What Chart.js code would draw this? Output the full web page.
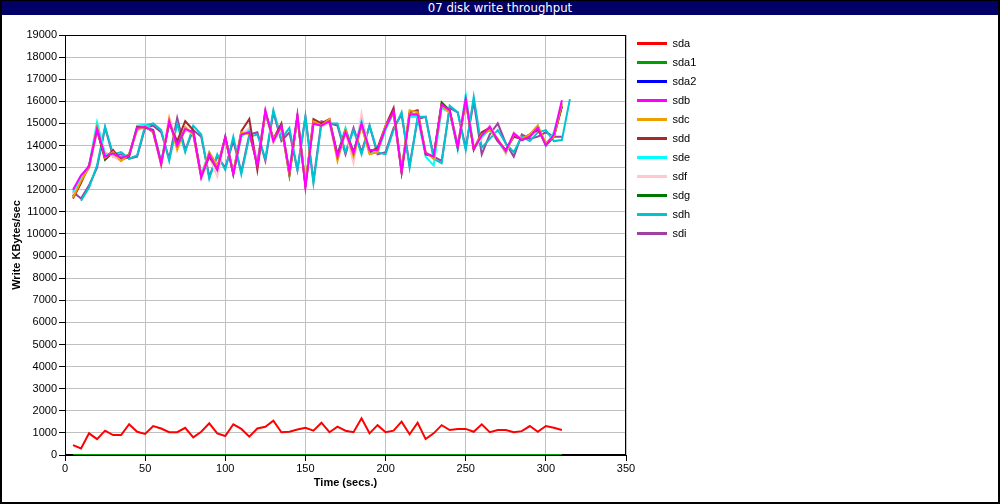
<!DOCTYPE html>
<html>
    <head>
        <meta charset="utf-8">
        <title>07 disk write throughput</title>
        <script src="https://cdn.jsdelivr.net/npm/chart.js@4.4.0/dist/chart.umd.min.js"></script>
        <style>
            body { margin: 0; background: #fff; }
            #wrap { position: relative; width: 1000px; height: 504px; overflow: hidden; }
            #chart { position: absolute; left: 0; top: 0; }
            #title { position: absolute; left: 0; top: 0; width: 1000px; height: 15px; background: #000066;
                     color: #fff; text-align: center; line-height: 15px;
                     font-family: 'Liberation Sans Narrow', 'DejaVu Sans Condensed', 'Liberation Sans', sans-serif; font-size: 13px; }
            #frame { position: absolute; left: 0; top: 0; width: 1000px; height: 504px; box-sizing: border-box;
                     border: 2px solid #000; border-top-width: 1px; pointer-events: none; }
        </style>
    </head>
    <body>
        <div id="wrap">
            <canvas id="chart" width="1000" height="504"></canvas>
            <div id="title">07 disk write throughput</div>
            <div id="frame"></div>
        </div>
        <script>
// sample times (secs.)
const times = [5,10,15,20,25,30,35,40,45,50,55,60,65,70,75,80,85,90,95,100,
    105,110,115,120,125,130,135,140,145,150,155,160,165,170,175,180,185,190,195,200,
    205,210,215,220,225,230,235,240,245,250,255,260,265,270,275,280,285,290,295,300,305,310];
// sdh is logged one sample later
const timesH = [10,15,20,25,30,35,40,45,50,55,60,65,70,75,80,85,90,95,100,105,
    110,115,120,125,130,135,140,145,150,155,160,165,170,175,180,185,190,195,200,205,
    210,215,220,225,230,235,240,245,250,255,260,265,270,275,280,285,290,295,300,305,310,315];

const sda = [450,300,980,720,1100,900,900,1390,1050,950,1310,1200,1030,1030,1230,800,1050,1430,980,860,
    1390,1180,830,1200,1280,1550,1030,1050,1150,1230,1100,1460,1030,1280,1100,1030,1660,980,1350,1030,
    1100,1510,940,1460,720,980,1350,1130,1180,1180,1050,1390,1030,1130,1130,1030,1080,1310,1050,1310,1230,1130];
const sda1 = [0,0,0,0,0,0,0,0,0,0,0,0,0,0,0,0,0,0,0,0,0,0,0,0,0,0,0,0,0,0,0,
    0,0,0,0,0,0,0,0,0,0,0,0,0,0,0,0,0,0,0,0,0,0,0,0,0,0,0,0,0,0,0];
const sda2 = [0,0,0,0,0,0,0,0,0,0,0,0,0,0,0,0,0,0,0,0,0,0,0,0,0,0,0,0,0,0,0,
    0,0,0,0,0,0,0,0,0,0,0,0,0,0,0,0,0,0,0,0,0,0,0,0,0,0,0,0,0,0,0];
const sdb = [12000,12650,13050,14750,13500,13650,13450,13550,14800,14850,14650,13150,15100,14000,14750,14600,12550,13600,12900,14400,
    12700,14500,14600,13100,15600,14200,14900,12800,15400,12100,15000,14900,15100,13500,14600,13650,15000,13800,13800,14800,
    15550,12800,15400,15400,13650,13500,15850,15600,13950,16100,13850,14450,14850,14250,13750,14550,14250,14400,14800,14000,14500,16050];
const sdc = [11650,12400,13000,14850,13450,13700,13300,13600,14700,14900,14600,13100,15200,13800,14850,14500,12600,13700,13100,14300,
    12800,14600,14500,13200,15500,14300,14800,12700,15300,12300,15100,14900,15200,13300,14700,13500,14900,13600,13700,14900,
    15450,12900,15600,15500,13700,13400,15800,15500,14000,16000,13900,14500,14700,14300,13700,14500,14300,14500,14900,14100,14400,15900];
const sdd = [11600,12300,13100,14700,13400,13800,13350,13500,14850,14800,14700,13200,15000,14200,15100,14700,12600,13500,12950,14350,
    12750,14650,15200,12900,15500,14300,15000,12700,15300,12200,15200,15000,15200,13600,14700,13700,14900,13700,13900,14900,
    15700,12800,15500,15600,13600,13500,15900,15550,13900,16000,13800,14600,14800,14200,13800,14400,14300,14500,14700,14100,14400,15800];
const sde = [11900,12600,13100,15050,13600,13600,13500,13500,14900,14950,14700,13300,15000,14100,14800,14500,12700,13700,13000,14300,
    12800,14400,14700,13200,15500,14300,14800,12900,15300,12300,15000,15000,15100,13600,14800,13700,15100,13700,13700,14700,
    15500,13000,15300,15300,13500,13100,15700,15500,13800,16300,13900,14400,14700,14200,13700,14500,14300,14500,14900,14000,14600,15900];
const sdf = [11800,12500,13000,14600,13700,13500,13300,13550,14700,14800,14700,13200,15300,14100,14700,14500,12500,13500,12600,14300,
    12800,14500,14800,13300,15500,14100,14800,12900,15200,12200,15100,14900,15000,13400,14600,13200,15450,13700,13800,14800,
    15500,12900,15300,15300,13700,13500,15700,15500,14100,16000,13900,14300,14900,14300,13600,14600,14300,14500,14700,14100,14400,15900];
const sdg = [11700,12450,13000,14700,13350,13700,13400,13600,14800,14850,14600,13200,15100,14000,14700,14600,12600,13600,12900,14400,
    12700,14500,14600,13100,15500,14200,14900,12650,15300,12200,15000,14900,15100,13500,14600,13600,15000,13800,13800,14800,
    15500,12800,15400,15400,13650,13500,15950,15600,13950,16100,13850,14400,14800,14250,13750,14500,14250,14400,14800,14000,14400,15750];
const sdh = [11500,12100,13100,14850,13600,13700,13400,13550,14900,15000,14700,13300,15000,13700,14900,14500,12500,13600,12900,14400,
    12700,14400,14500,13400,15600,14300,14800,12900,15300,12300,15000,15000,15000,13700,14700,13600,14900,13700,13600,14700,
    15500,13000,15300,15300,13400,13200,15800,15500,13800,16200,13900,14300,14700,14100,13700,14400,14200,14600,14700,14200,14250,16100];
const sdi = [11900,11600,12200,13000,14800,13500,13600,13400,13500,14800,14900,14600,13400,15250,13800,14700,14400,12600,13500,13000,
    14200,12800,14500,14600,13300,15500,14200,14600,12900,15300,12400,15100,15000,14900,13600,14800,13700,14900,13600,13700,
    14800,15400,13100,15200,15300,13500,13300,15700,15500,13900,16000,13600,14500,15000,14100,13500,14500,14300,14400,14600,14400,14400];

const yTicks = { min: 0, max: 19000, step: 1000 };
const xTicks = { min: 0, max: 350, step: 50 };

function pts(xs, ys) {
    return xs.map((x, i) => ({ x: x, y: ys[i] }));
}

function line(label, xs, ys, color) {
    return {
        label: label,
        data: pts(xs, ys),
        borderColor: color,
        backgroundColor: color,
        borderWidth: 2,
        pointRadius: 0,
        tension: 0
    };
}

const fontFamily = "'Liberation Sans', Arial, sans-serif";
Chart.defaults.font.family = fontFamily;
Chart.defaults.font.size = 11;
Chart.defaults.color = '#000';

// black box round the plot area
const plotFrame = {
    id: 'plotFrame',
    beforeDatasetsDraw(chart) {
        const a = chart.chartArea;
        const ctx = chart.ctx;
        ctx.save();
        ctx.strokeStyle = '#000';
        ctx.lineWidth = 1;
        ctx.strokeRect(Math.round(a.left) + 0.5, Math.round(a.top) + 0.5,
            Math.round(a.right - a.left) - 1, Math.round(a.bottom - a.top) - 1);
        ctx.restore();
    }
};

// put the legend to the right of the plot
const legendSpot = {
    id: 'legendSpot',
    afterLayout(chart) {
        const lg = chart.legend;
        const w = lg.width, h = lg.height;
        lg.left = 629; lg.right = 629 + w;
        lg.top = 30; lg.bottom = 30 + h;
    }
};

const ctx = document.getElementById('chart').getContext('2d');
const myChart = new Chart(ctx, {
    type: 'line',
    data: {
        datasets: [
            line('sda', times, sda, '#ff0000'),
            line('sda1', times, sda1, '#00a000'),
            line('sda2', times, sda2, '#0000ff'),
            line('sdb', times, sdb, '#ff00ff'),
            line('sdc', times, sdc, '#eea000'),
            line('sdd', times, sdd, '#a52a2a'),
            line('sde', times, sde, '#00ffff'),
            line('sdf', times, sdf, '#ffc8cc'),
            line('sdg', times, sdg, '#007800'),
            line('sdh', timesH, sdh, '#00c4d0'),
            line('sdi', times, sdi, '#a040a0')
        ]
    },
    options: {
        responsive: false,
        animation: false,
        layout: { padding: { top: 35, right: 374, bottom: 0, left: 0 } },
        plugins: {
            tooltip: { enabled: false },
            legend: {
                position: 'chartArea',
                align: 'start',
                labels: {
                    usePointStyle: true,
                    pointStyle: 'line',
                    pointStyleWidth: 30,
                    padding: 8,
                    color: '#000',
                    font: { size: 11, family: fontFamily },
                    generateLabels: function(chart) {
                        const items = Chart.defaults.plugins.legend.labels.generateLabels(chart);
                        items.forEach(it => { it.lineWidth = 3; });
                        return items;
                    }
                }
            }
        },
        scales: {
            x: {
                type: 'linear',
                min: xTicks.min,
                max: xTicks.max,
                ticks: { stepSize: xTicks.step, padding: 1, color: '#000', autoSkip: false,
                         callback: v => String(v) },
                grid: { color: '#c0c0c0', tickColor: '#000', tickLength: 6 },
                border: { color: '#000', width: 1 },
                title: { display: true, text: 'Time (secs.)', font: { size: 11, weight: 'bold' }, padding: { top: 0, bottom: 14 } },
                afterFit: function(scale) { scale.height = 49; }
            },
            y: {
                min: yTicks.min,
                max: yTicks.max,
                ticks: { stepSize: yTicks.step, padding: 2, color: '#000', autoSkip: false,
                         callback: v => String(v) },
                grid: { color: '#c0c0c0', tickColor: '#000', tickLength: 6 },
                border: { color: '#000', width: 1 },
                title: { display: true, text: 'Write KBytes/sec', font: { size: 11, weight: 'bold' }, padding: { top: 10, bottom: 0 } },
                afterFit: function(scale) { scale.width = 65; }
            }
        }
    },
    plugins: [plotFrame, legendSpot]
});
        </script>
    </body>
</html>
